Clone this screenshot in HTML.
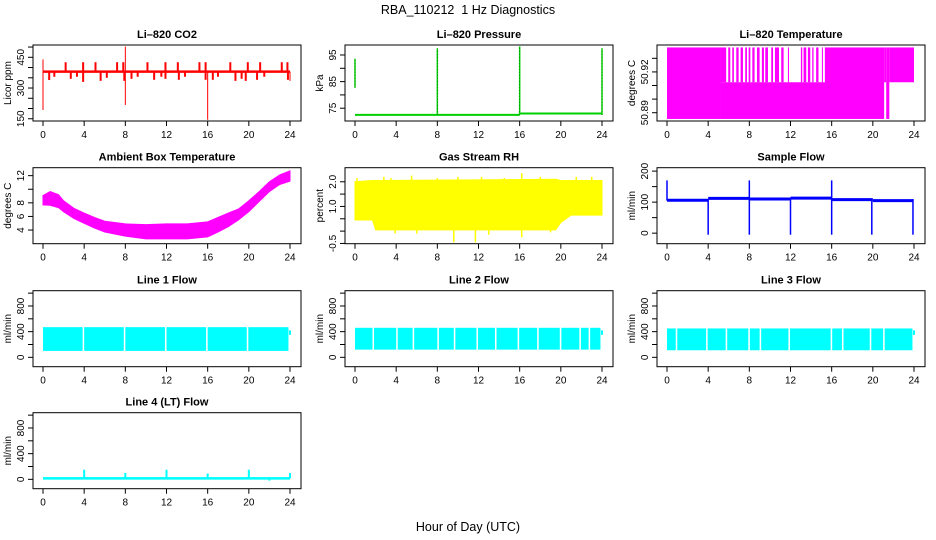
<!DOCTYPE html>
<html><head><meta charset="utf-8"><style>
body{margin:0;background:#fff;}
svg{display:block;font-family:"Liberation Sans",sans-serif;}
.t{font-size:11px;font-weight:bold;text-anchor:middle;}
.k{font-size:10px;text-anchor:middle;}
</style></head><body>
<svg id="c" width="936" height="540" viewBox="0 0 936 540">
<text x="468" y="14" font-size="12.5" text-anchor="middle" style="white-space:pre">RBA_110212  1 Hz Diagnostics</text>
<text x="468" y="531" font-size="12.5" text-anchor="middle">Hour of Day (UTC)</text>
</svg>
<script>
// ---- data ----
const xTicks=[0,4,8,12,16,20,24];
const co2Base=380;
const co2SpikeT=[0,0,2.2,3.9,5.1,7.2,7.8,8,8,10.15,11.9,13.1,15.2,15.8,16,18.2,19.9,21.1,23.2,23.75,0.6,1.1,2.7,3.3,3.9,5.6,6.2,7.9,8.6,9.2,10.8,11.5,11.9,13.2,13.8,15.8,16.5,17.0,18.7,19.3,19.7,20.8,21.5,23.8,24];
const co2SpikeV=[193,440,426,426,426,426,426,502,217,426,426,426,426,426,145,426,426,426,426,426,339,355,345,355,330,335,350,335,345,355,340,355,345,340,355,340,340,355,335,345,335,340,355,340,335];
const presBaseT=[0,16,24];
const presBaseV=[72.5,73,73];
const presSpikeT=[0,8,16,24];
const presSpikeLo=[82.7,72.5,72.5,72.5];
const presSpikeHi=[93.6,97.5,98.2,97.5];
const tempLevels=[50.8854,50.9124,50.938];
const tempFullStart=[0,15.4,21.3];
const tempFullEnd=[5.2,21.1,21.6];
const tempLowStart=[5.2];
const tempLowEnd=[15.4];
const tempHighStart=[5.2,5.95,6.34,6.73,7.15,7.6,7.93,8.29,8.74,9.22,9.55,10.13,10.49,11.1,11.75,13.01,13.27,13.69,14.11,14.49,15.05,15.34,21.1,21.6];
const tempHighEnd=[5.75,6.15,6.5,6.96,7.38,7.77,8.1,8.51,9.0,9.42,9.81,10.3,10.88,11.33,11.85,13.14,13.53,13.92,14.24,14.72,15.15,15.47,21.3,24];
const ambT=[0,0.7,1.5,2,3,4,5,6,8,10,12,14,16,17,18,19,20,21,22,23,24];
const ambHi=[9.07,9.66,9.2,8.3,7.2,6.5,5.85,5.3,4.9,4.8,4.9,4.9,5.2,5.85,6.5,7.1,8.3,9.66,11.1,12.1,12.7];
const ambLo=[7.7,7.65,7.3,6.7,5.7,5.0,4.3,3.7,3.1,2.7,2.7,2.7,3.0,3.7,4.5,5.5,6.7,8.2,9.66,10.7,11.2];
const rhT=[0,1.7,2,19.5,20,21,24];
const rhHi=[2.0,2.05,2.05,2.1,2.05,2.05,2.05];
const rhLo=[0.45,0.45,0.05,0.05,0.35,0.65,0.65];
const rhSpikeT=[0.2,2.8,3.5,5.5,8,10,12.3,14.5,16.2,18,21.5,23,3.9,6,9.6,11.7,13,16.2,19];
const rhSpikeV=[2.15,2.2,2.15,2.25,2.15,2.2,2.2,2.15,2.35,2.2,2.2,2.2,-0.1,-0.1,-0.45,-0.45,-0.15,-0.25,-0.05];
const sfT=[0,4,8,12,16,20,23.9];
const sfV=[106,112,110,113,108,105];
const sfDipT=[4,8,12,16,19.9,23.9];
const sfSpikeT=[0,8,16];
const sfSpikeV=[170,170,170];
const l1Gaps=[3.85,7.85,11.85,15.85,19.8];
const l2Gaps=[1.7,4.0,5.6,8.0,9.6,11.8,13.6,15.8,17.7,19.9,21.8,22.7];
const l3Gaps=[0.85,3.8,5.7,7.9,9.0,11.8,15.9,17.0,19.7,21.0];
const flowLo=[100,120,110];
const flowHi=[470,460,450];
const flowEndV=[400,400,400];
const l4Base=15;
const l4SpikeT=[4,8,12,16,20,24,22];
const l4SpikeV=[150,100,150,90,150,100,-20];

// ---- drawing ----
const svg=document.getElementById('c');
const NS='http://www.w3.org/2000/svg';
function mk(tag,at,parent){const e=document.createElementNS(NS,tag);for(const k in at)e.setAttribute(k,at[k]);(parent||svg).appendChild(e);return e;}
const colL=[33,345,657], rowT=[45,167.7,290.7,412.7], W=268, H=76;
function panel(col,row,title,ylab,ymin,ymax,ticks,labels,name){
  const L=colL[col],T=rowT[row],B=T+H;
  const g=mk('g',{});
  
  
  const P={g,L,T,B,x:t=>L+10+t*247/24,y:v=>B-(v-ymin)/(ymax-ymin)*H};
  const tt=mk('text',{x:L+W/2,y:T-7,class:'t'},g);tt.textContent=title;
  
  
  xTicks.forEach(t=>{const X=P.x(t);mk('line',{x1:X,x2:X,y1:B,y2:B+5,stroke:'#000'},g);
    const l=mk('text',{x:X,y:B+17,class:'k'},g);l.textContent=t;
    
    });
  ticks.forEach(v=>{const Y=P.y(v);mk('line',{x1:L-5,x2:L,y1:Y,y2:Y,stroke:'#000'},g);});
  labels.forEach(v=>{const Y=P.y(v);const l=mk('text',{x:0,y:0,class:'k',transform:`translate(${L-9},${Y}) rotate(-90)`},g);l.textContent=v;
    
    });
  const yl=mk('text',{x:0,y:0,class:'k',transform:`translate(${L-22},${T+H/2}) rotate(-90)`},g);yl.textContent=ylab;
  
  
  P.draw=()=>{const r=mk('rect',{x:L,y:T,width:W,height:H,fill:'none',stroke:'#000'},g);
    
    };
  return P;
}
function vline(P,t,a,b,col,w,nm){const X=P.x(t);const e=mk('line',{x1:X,x2:X,y1:P.y(a),y2:P.y(b),stroke:col,'stroke-width':w||1},P.g);
  
  return e;}
function band(P,t,hi,lo,col,nm){let d='M'+t.map((v,i)=>P.x(v)+','+P.y(hi[i])).join('L');
  for(let i=t.length-1;i>=0;i--)d+='L'+P.x(t[i])+','+P.y(lo[i]);
  const e=mk('path',{d:d+'Z',fill:col,stroke:col},P.g);
  
  }
function rectT(P,a,b,lo,hi,col,nm){const e=mk('rect',{x:P.x(a),y:P.y(hi),width:Math.max(0.8,P.x(b)-P.x(a)),height:P.y(lo)-P.y(hi),fill:col},P.g);
  
  }

// CO2
let P=panel(0,0,'Li–820 CO2','Licor ppm',139,510,[150,200,250,300,350,400,450,500],[150,300,450],'co2');
co2SpikeT.forEach((t,i)=>vline(P,t,co2Base,co2SpikeV[i],'#f00',t%4===0?1:2,'co2-spike'));
rectT(P,0,24,co2Base-6,co2Base+6,'#f00','co2-baseline');
P.draw();
// Pressure
P=panel(1,0,'Li–820 Pressure','kPa',70.2,98.75,[75,80,85,90,95],[75,85,95],'pressure');
for(let i=0;i<presBaseT.length-1;i++){const e=mk('line',{x1:P.x(presBaseT[i]),x2:P.x(presBaseT[i+1]),y1:P.y(presBaseV[i]),y2:P.y(presBaseV[i]),stroke:'#00d000','stroke-width':2},P.g);
  
  }
presSpikeT.forEach((t,i)=>{vline(P,t,presSpikeLo[i],presSpikeHi[i],'#00d000',1.5,'pressure-spike');vline(P,t,presSpikeLo[i],presSpikeHi[i],'#006000',0.6,'pressure-spike-dots').setAttribute('stroke-dasharray','1 2');});
P.draw();
// Temperature
P=panel(2,0,'Li–820 Temperature','degrees C',50.8839,50.9398,[50.89,50.9,50.91,50.92,50.93],['50.89','50.92'],'li820-temp');
tempFullStart.forEach((a,i)=>rectT(P,a,tempFullEnd[i],tempLevels[0],tempLevels[2],'#f0f','temp-full-block'));
tempLowStart.forEach((a,i)=>rectT(P,a,tempLowEnd[i],tempLevels[0],tempLevels[1],'#f0f','temp-low-block'));
tempHighStart.forEach((a,i)=>rectT(P,a,tempHighEnd[i],tempLevels[1],tempLevels[2],'#f0f','temp-high-block'));
P.draw();
// Ambient
P=panel(0,1,'Ambient Box Temperature','degrees C',1.99,13.17,[4,6,8,10,12],[4,6,8,12],'ambient-temp');
band(P,ambT,ambHi,ambLo,'#f0f','ambient-band');
P.draw();
// RH
P=panel(1,1,'Gas Stream RH','percent',-0.51,2.57,[-0.5,0,0.5,1,1.5,2],['-0.5','1.0','2.0'],'rh');
band(P,rhT,rhHi,rhLo,'#ff0','rh-band');
rhSpikeT.forEach((t,i)=>vline(P,t,1,rhSpikeV[i],'#ff0',1.5,'rh-spike'));
P.draw();
// Sample flow
P=panel(2,1,'Sample Flow','ml/min',-34,211,[0,50,100,150,200],[0,100,200],'sample-flow');
for(let i=0;i<sfV.length;i++){const e=mk('line',{x1:P.x(sfT[i]),x2:P.x(sfT[i+1]),y1:P.y(sfV[i]),y2:P.y(sfV[i]),stroke:'#00f','stroke-width':3},P.g);
  
  }
sfDipT.forEach(t=>vline(P,t,-5,110,'#00f',1.5,'sample-flow-dip'));
sfSpikeT.forEach((t,i)=>vline(P,t,105,sfSpikeV[i],'#00f',1.5,'sample-flow-spike'));
P.draw();
// Line flows
const gapsAll=[l1Gaps,l2Gaps,l3Gaps];
['Line 1 Flow','Line 2 Flow','Line 3 Flow'].forEach((ttl,k)=>{
  const Q=panel(k,2,ttl,'ml/min',-146,1038,[0,200,400,600,800,1000],[0,400,800],'line'+(k+1)+'-flow');
  const gaps=gapsAll[k];let s=0;
  gaps.concat([23.85]).forEach(gp=>{rectT(Q,s,gp,flowLo[k],flowHi[k],'#0ff','flow-band');s=gp+0.15;});
  vline(Q,24,flowEndV[k]-50,flowEndV[k]+20,'#0ff',2,'flow-end');
  Q.draw();
});
// Line 4
P=panel(0,3,'Line 4 (LT) Flow','ml/min',-146,1038,[0,200,400,600,800,1000],[0,400,800],'line4-flow');
rectT(P,0,24,l4Base-20,l4Base+20,'#0ff','line4-baseline');
l4SpikeT.forEach((t,i)=>vline(P,t,l4Base,l4SpikeV[i],'#0ff',2,'line4-spike'));
P.draw();
</script>
</body></html>
